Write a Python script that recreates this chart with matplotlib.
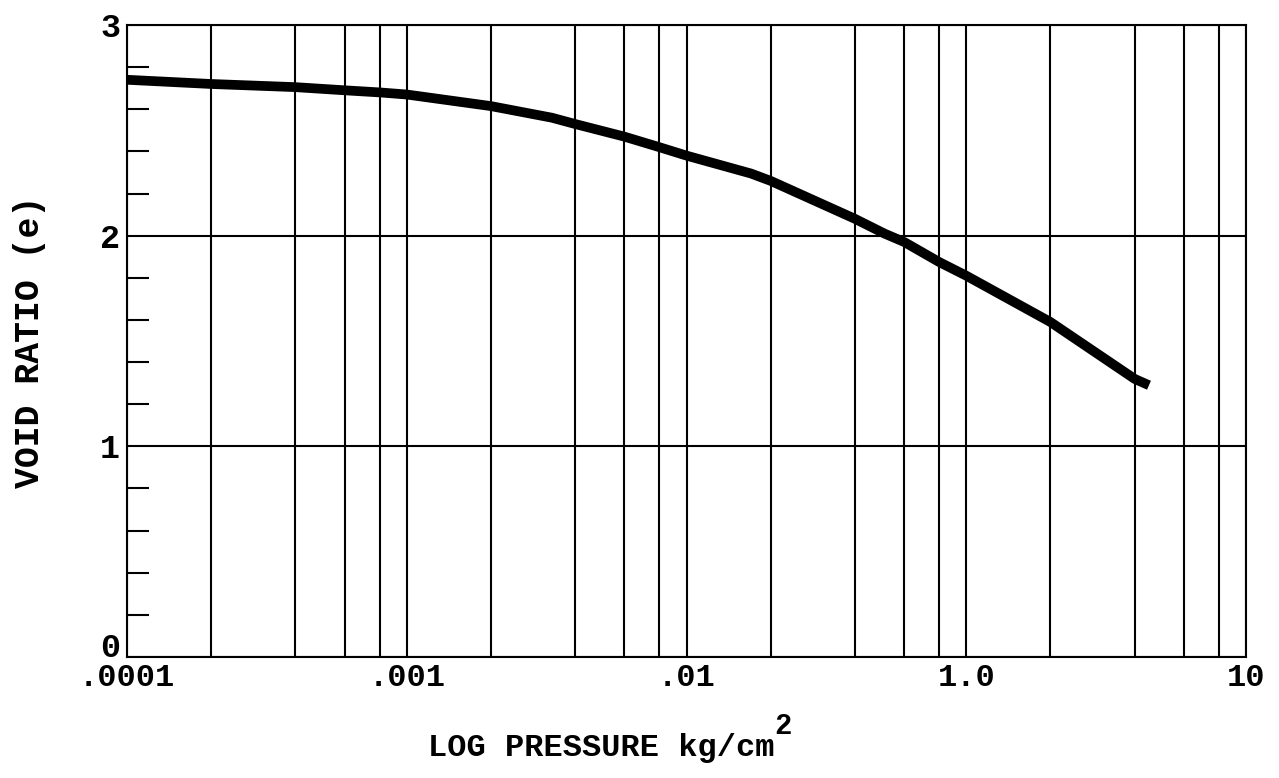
import matplotlib
matplotlib.use('Agg')
import matplotlib.pyplot as plt
import matplotlib.transforms as mtransforms
from matplotlib.ticker import FixedLocator, NullFormatter

# Consolidation curve: void ratio against log pressure
pressure = [1e-4, 2e-4, 4e-4, 6e-4, 8e-4, 1e-3, 2e-3, 3.3e-3, 4e-3, 6e-3,
            8e-3, 1e-2, 1.7e-2, 2e-2, 4e-2, 5.1e-2, 6e-2, 8e-2, 0.1, 0.2,
            0.4, 0.45]
void_ratio = [2.74, 2.72, 2.705, 2.69, 2.68, 2.67, 2.615, 2.56, 2.53, 2.47,
              2.42, 2.38, 2.295, 2.26, 2.08, 2.01, 1.97, 1.875, 1.81, 1.59,
              1.32, 1.29]

x_ticks = [1e-4, 1e-3, 1e-2, 1e-1, 1]
x_ticklabels = ['.0001', '.001', '.01', '1.0', '10']
y_ticks = [0, 1, 2, 3]
y_ticklabels = ['0', '1', '2', '3']

plt.rcParams['font.family'] = 'Liberation Mono'
plt.rcParams['font.weight'] = 'bold'

fig = plt.figure(figsize=(12.79, 7.78), dpi=100)
ax = fig.add_axes([127 / 1279, 1 - 657 / 778, (1246 - 127) / 1279, (657 - 25) / 778])

ax.set_xscale('log')
ax.set_xlim(1e-4, 1)
ax.set_ylim(0, 3)

# log paper: lines at 2, 4, 6, 8 and each decade
grid_x = [m * 10.0 ** e for e in range(-4, 0) for m in (2, 4, 6, 8)]
for gx in grid_x + x_ticks:
    ax.axvline(gx, color='black', lw=1.5, zorder=1)
for gy in y_ticks:
    ax.axhline(gy, color='black', lw=1.5, zorder=1)

ax.plot(pressure, void_ratio, color='black', lw=7, solid_capstyle='butt',
        solid_joinstyle='round', zorder=3)

ax.xaxis.set_major_locator(FixedLocator(x_ticks))
ax.set_xticklabels(x_ticklabels)
ax.xaxis.set_minor_formatter(NullFormatter())
ax.tick_params(axis='x', which='both', length=0, pad=4, labelsize=23)

ax.yaxis.set_major_locator(FixedLocator(y_ticks))
ax.set_yticklabels(y_ticklabels)
ax.yaxis.set_minor_locator(FixedLocator([i / 5 for i in range(15) if i % 5]))
ax.tick_params(axis='y', which='major', length=0, pad=5, labelsize=24)
ax.tick_params(axis='y', which='minor', direction='in', length=16,
               width=1.5, left=True, right=False)

# lift the "0" so it sits above the pressure labels
zero_label = ax.get_yticklabels()[0]
zero_label.set_transform(zero_label.get_transform() +
                         mtransforms.ScaledTranslation(0, 12 / 100, fig.dpi_scale_trans))

for s in ax.spines.values():
    s.set_linewidth(1.5)

fig.text(30 / 1279, 1 - 342 / 778, 'VOID RATIO (e)', rotation=90,
         ha='center', va='center', fontsize=25)
fig.text(428 / 1279, 1 - 748 / 778, 'LOG PRESSURE kg/cm',
         ha='left', va='center', fontsize=23)
fig.text(774 / 1279, 1 - 726 / 778, '2', ha='left', va='center', fontsize=21)

fig.savefig('out.png', dpi=100)
